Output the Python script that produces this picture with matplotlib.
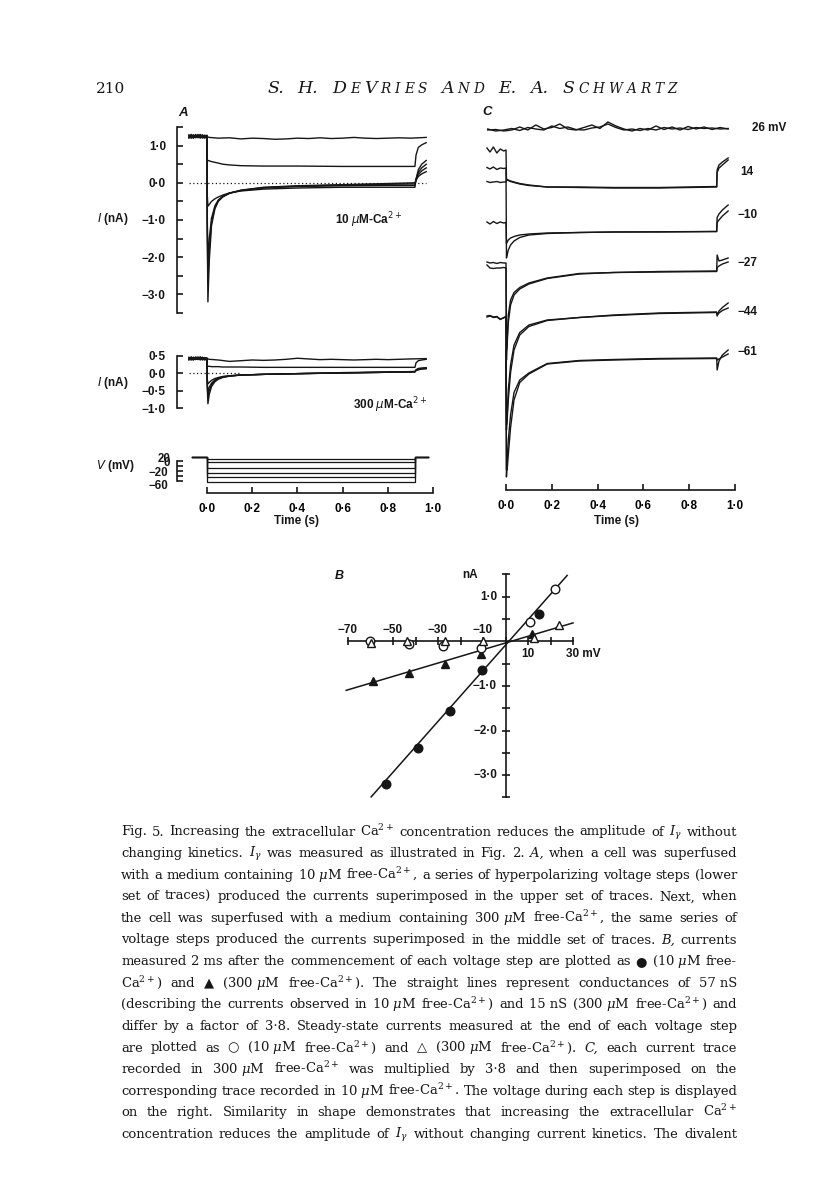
import matplotlib
matplotlib.use('Agg')
import matplotlib.pyplot as plt
from matplotlib.ticker import FixedLocator, FixedFormatter
from matplotlib.font_manager import FontProperties

W, H = 816, 1203
INK = '#161616'
SANS = ['Liberation Sans', 'DejaVu Sans']
SERIF = ['DejaVu Serif', 'Liberation Serif', 'DejaVu Sans']
LW = 1.0

# ======================= DATA =======================
step_mV = [26, 14, -10, -27, -44, -61]          # voltage of each step
holding_mV = 35
step_end_s = 0.92
sweep_start_s = -0.068
sweep_end_s = 0.978

# ---- Panel A: time grids (s) ----
tA_pre = [-0.08, -0.07, -0.06, -0.05, -0.04, -0.03, -0.02, -0.01, 0.0]
tA_step = [0.001, 0.004, 0.01, 0.02, 0.035, 0.05, 0.07, 0.1, 0.15, 0.25, 0.4, 0.6, 0.8, 0.92]
tA_tail = [0.925, 0.935, 0.95, 0.97]
tA_flat = [0.01, 0.05, 0.1, 0.15, 0.2, 0.25, 0.3, 0.35, 0.4, 0.45, 0.5, 0.55,
           0.6, 0.65, 0.7, 0.75, 0.8, 0.85, 0.9, 0.97]

# ---- Panel A, 10 uM Ca (nA); rows follow step_mV ----
A10_pre = [
    [1.22, 1.28, 1.21, 1.26, 1.23, 1.29, 1.22, 1.27, 1.24],
    [1.27, 1.21, 1.29, 1.23, 1.28, 1.20, 1.26, 1.22, 1.24],
    [1.20, 1.26, 1.23, 1.30, 1.21, 1.27, 1.20, 1.28, 1.25],
    [1.25, 1.20, 1.28, 1.22, 1.30, 1.23, 1.29, 1.21, 1.26],
    [1.29, 1.24, 1.20, 1.27, 1.22, 1.30, 1.24, 1.20, 1.27],
    [1.23, 1.30, 1.25, 1.21, 1.27, 1.22, 1.28, 1.25, 1.28],
]
A10_flat26 = [1.22, 1.20, 1.21, 1.18, 1.20, 1.19, 1.17, 1.18, 1.20, 1.19,
              1.21, 1.19, 1.20, 1.22, 1.20, 1.19, 1.20, 1.21, 1.20, 1.22]
A10_step = [
    [0.62, 0.60, 0.59, 0.57, 0.55, 0.53, 0.50, 0.48, 0.46, 0.45, 0.45, 0.44, 0.44, 0.44],
    [-0.30, -0.63, -0.58, -0.50, -0.43, -0.38, -0.33, -0.27, -0.22, -0.17, -0.14, -0.12, -0.12, -0.12],
    [-0.80, -2.20, -1.50, -0.95, -0.62, -0.46, -0.36, -0.28, -0.21, -0.14, -0.10, -0.08, -0.07, -0.07],
    [-1.00, -2.70, -1.80, -1.05, -0.66, -0.48, -0.37, -0.28, -0.20, -0.13, -0.09, -0.06, -0.04, -0.03],
    [-1.20, -3.20, -2.10, -1.15, -0.70, -0.50, -0.38, -0.28, -0.20, -0.12, -0.08, -0.05, -0.02, 0.00],
]
A10_tail = [
    [0.75, 0.95, 1.02, 1.08],
    [0.10, 0.35, 0.50, 0.60],
    [0.10, 0.28, 0.40, 0.50],
    [0.08, 0.22, 0.32, 0.40],
    [0.07, 0.17, 0.24, 0.30],
]

# ---- Panel A, 300 uM Ca (nA) ----
A300_pre = [
    [0.40, 0.45, 0.39, 0.44, 0.41, 0.46, 0.40, 0.44, 0.42],
    [0.44, 0.39, 0.46, 0.40, 0.45, 0.38, 0.43, 0.40, 0.42],
    [0.38, 0.43, 0.41, 0.47, 0.39, 0.44, 0.38, 0.45, 0.42],
    [0.42, 0.38, 0.45, 0.40, 0.47, 0.41, 0.46, 0.39, 0.43],
    [0.46, 0.41, 0.38, 0.44, 0.40, 0.47, 0.42, 0.38, 0.41],
    [0.41, 0.47, 0.42, 0.39, 0.44, 0.40, 0.45, 0.42, 0.44],
]
A300_flat26 = [0.40, 0.38, 0.34, 0.36, 0.38, 0.37, 0.38, 0.40, 0.43, 0.41,
               0.39, 0.40, 0.39, 0.38, 0.39, 0.40, 0.39, 0.40, 0.41, 0.42]
A300_step = [
    [0.20, 0.20, 0.20, 0.19, 0.19, 0.19, 0.18, 0.18, 0.18, 0.17, 0.17, 0.17, 0.17, 0.17],
    [-0.15, -0.30, -0.26, -0.20, -0.15, -0.12, -0.09, -0.07, -0.05, -0.03, -0.01, 0.01, 0.03, 0.04],
    [-0.25, -0.55, -0.40, -0.28, -0.19, -0.14, -0.10, -0.07, -0.05, -0.03, -0.01, 0.01, 0.03, 0.04],
    [-0.30, -0.70, -0.50, -0.33, -0.21, -0.15, -0.11, -0.08, -0.05, -0.03, -0.01, 0.01, 0.03, 0.05],
    [-0.35, -0.87, -0.60, -0.38, -0.24, -0.17, -0.12, -0.08, -0.05, -0.03, -0.01, 0.02, 0.04, 0.05],
]
A300_tail = [
    [0.30, 0.36, 0.38, 0.40],
    [0.10, 0.14, 0.15, 0.16],
    [0.09, 0.12, 0.14, 0.15],
    [0.08, 0.11, 0.13, 0.14],
    [0.08, 0.10, 0.12, 0.13],
]

# ---- Panel B: I-V points ----
B_peak10_mV = [-53.3, -39.0, -24.6, -10.4, 14.8]
B_peak10_nA = [-3.21, -2.39, -1.57, -0.65, 0.61]
B_peak300_mV = [-59.0, -43.0, -27.0, -11.0, 11.7]
B_peak300_nA = [-0.90, -0.70, -0.52, -0.29, 0.16]
B_ss10_mV = [-60.4, -43.0, -28.0, -11.0, 10.7, 22.0]
B_ss10_nA = [0.00, -0.05, -0.10, -0.15, 0.44, 1.18]
B_ss300_mV = [-60.0, -44.0, -27.0, -10.0, 12.6, 23.7]
B_ss300_nA = [-0.03, 0.00, 0.00, 0.00, 0.08, 0.37]
B_fit_g_nS = [57, 15]
B_fit_Erev_mV = [1.5, 2.5]
B_fit_from_mV = [-59.7, -70.8]
B_fit_to_mV = [27.4, 30.0]

# ---- Panel C: superimposed traces (display units, 10 uM scale) ----
tC_pre = [-0.083, -0.07, -0.055, -0.04, -0.025, -0.01, 0.0]
tC_step = [0.002, 0.005, 0.01, 0.02, 0.035, 0.06, 0.1, 0.18, 0.32, 0.47, 0.67, 0.92]
tC_tail = [0.922, 0.93, 0.945, 0.97]
tC_26 = [-0.08, -0.045, -0.01, 0.025, 0.06, 0.095, 0.13, 0.165, 0.2, 0.235, 0.27,
         0.305, 0.34, 0.375, 0.41, 0.445, 0.48, 0.515, 0.55, 0.585, 0.62, 0.655,
         0.69, 0.725, 0.76, 0.795, 0.83, 0.865, 0.9, 0.935, 0.97]
C26_a = [0.02, -0.02, 0.00, 0.03, -0.01, 0.05, 0.02, 0.00, 0.08, 0.03, 0.06, 0.01,
         0.00, 0.04, 0.06, 0.12, 0.05, 0.00, 0.02, -0.01, 0.03, 0.00, 0.05, 0.02,
         0.04, 0.01, 0.05, 0.03, 0.04, 0.02, 0.03]
C26_b = [0.00, 0.01, -0.02, 0.00, 0.06, 0.00, 0.10, 0.02, 0.05, 0.12, 0.02, 0.00,
         0.05, 0.10, 0.03, 0.16, 0.08, 0.02, -0.02, 0.03, 0.00, 0.08, 0.01, 0.06,
         0.00, 0.07, 0.02, 0.06, 0.01, 0.05, 0.02]
# rows: 14, -10, -27, -44, -61 mV ; None = no baseline drawn
C_pre_a = [
    [-0.36, -0.44, -0.34, -0.46, -0.38, -0.42, -0.40],
    [-1.84, -1.88, -1.83, -1.87, -1.84, -1.86, -1.85],
    [-2.64, -2.66, -2.65, -2.67, -2.65, -2.66, -2.66],
    [-3.72, -3.71, -3.74, -3.73, -3.78, -3.76, -3.73],
    None,
]
C_pre_b = [
    [-1.03, -1.05, -1.04, -1.03, -1.05, -1.04, -1.04],
    [-0.75, -0.78, -0.74, -0.79, -0.76, -0.77, -0.76],
    [-2.70, -2.76, -2.77, -2.76, -2.76, -2.75, -2.76],
    [-3.74, -3.72, -3.75, -3.74, -3.79, -3.75, -3.73],
    None,
]
C_start_61 = -4.40
C_step_a = [
    [-0.98, -0.99, -1.00, -1.02, -1.04, -1.07, -1.10, -1.14, -1.15, -1.16, -1.16, -1.14],
    [-2.27, -2.24, -2.20, -2.16, -2.13, -2.10, -2.08, -2.06, -2.05, -2.04, -2.035, -2.03],
    [-4.60, -4.20, -3.70, -3.40, -3.25, -3.15, -3.06, -2.96, -2.87, -2.85, -2.83, -2.82],
    [-6.00, -5.70, -5.20, -4.70, -4.30, -4.05, -3.90, -3.80, -3.75, -3.70, -3.66, -3.64],
    [-6.94, -6.60, -6.20, -5.70, -5.25, -5.00, -4.86, -4.67, -4.61, -4.59, -4.57, -4.56],
]
C_step_b = [
    [-1.00, -1.00, -1.01, -1.03, -1.05, -1.08, -1.11, -1.14, -1.14, -1.15, -1.15, -1.13],
    [-2.56, -2.50, -2.40, -2.30, -2.22, -2.15, -2.10, -2.07, -2.05, -2.04, -2.04, -2.03],
    [-4.40, -4.30, -3.85, -3.50, -3.30, -3.18, -3.08, -2.97, -2.88, -2.85, -2.84, -2.83],
    [-5.90, -5.80, -5.40, -4.85, -4.40, -4.10, -3.93, -3.81, -3.75, -3.71, -3.67, -3.65],
    [-6.80, -6.80, -6.50, -5.95, -5.40, -5.05, -4.88, -4.68, -4.62, -4.60, -4.58, -4.57],
]
C_tail_a = [
    [-0.80, -0.70, -0.64, -0.56],
    [-1.75, -1.68, -1.60, -1.50],
    [-2.50, -2.62, -2.60, -2.56],
    [-3.72, -3.62, -3.55, -3.46],
    [-4.80, -4.62, -4.50, -4.40],
]
C_tail_b = [
    [-0.85, -0.76, -0.70, -0.60],
    [-1.85, -1.80, -1.72, -1.62],
    [-2.75, -2.72, -2.68, -2.64],
    [-3.70, -3.66, -3.61, -3.56],
    [-4.60, -4.58, -4.54, -4.48],
]
C_labels = ['26 mV', '14', '\u221210', '\u221227', '\u221244', '\u221261']

# ---- Caption ----
caption = [
    "Fig. 5. Increasing the extracellular Ca$^{2+}$ concentration reduces the amplitude of $I_\\gamma$ without",
    "changing kinetics. $I_\\gamma$ was measured as illustrated in Fig. 2. *A, when a cell was superfused",
    "with a medium containing 10~$\\mu$M free-Ca$^{2+}$, a series of hyperpolarizing voltage steps (lower",
    "set of traces) produced the currents superimposed in the upper set of traces. Next, when",
    "the cell was superfused with a medium containing 300~$\\mu$M free-Ca$^{2+}$, the same series of",
    "voltage steps produced the currents superimposed in the middle set of traces. *B, currents",
    "measured 2~ms after the commencement of each voltage step are plotted as \u25cf (10~$\\mu$M free-",
    "Ca$^{2+}$) and \u25b2 (300~$\\mu$M free-Ca$^{2+}$). The straight lines represent conductances of 57~nS",
    "(describing the currents observed in 10~$\\mu$M free-Ca$^{2+}$) and 15~nS (300~$\\mu$M free-Ca$^{2+}$) and",
    "differ by a factor of 3\u00b78. Steady-state currents measured at the end of each voltage step",
    "are plotted as \u25cb (10~$\\mu$M free-Ca$^{2+}$) and \u25b3 (300~$\\mu$M free-Ca$^{2+}$). *C, each current trace",
    "recorded in 300~$\\mu$M free-Ca$^{2+}$ was multiplied by 3\u00b78 and then superimposed on the",
    "corresponding trace recorded in 10~$\\mu$M free-Ca$^{2+}$. The voltage during each step is displayed",
    "on the right. Similarity in shape demonstrates that increasing the extracellular Ca$^{2+}$",
    "concentration reduces the amplitude of $I_\\gamma$ without changing current kinetics. The divalent",
]

# ======================= FIGURE =======================
fig = plt.figure(figsize=(W / 100, H / 100), dpi=100)
fig.patch.set_facecolor('white')
renderer = fig.canvas.get_renderer()


def add_ax(l, t, r, b):
    ax = fig.add_axes([l / W, 1 - b / H, (r - l) / W, (b - t) / H])
    ax.patch.set_alpha(0)
    for s in ax.spines.values():
        s.set_visible(False)
    ax.set_xticks([])
    ax.set_yticks([])
    return ax


def ftext(x, y, s, **kw):
    base = dict(color=INK, family=SANS, fontsize=8.5, math_fontfamily='dejavusans')
    base.update(kw)
    return fig.text(x / W, 1 - y / H, s, **base)


def num(v):
    s = f"{abs(v):.1f}".replace('.', '\u00b7')
    return ('\u2212' + s) if v < 0 else s


TICKFONT = dict(family=SANS, size=8.5, weight='bold')


def left_axis(ax, lo, hi, ticks, labels, pad=8):
    sp = ax.spines['left']
    sp.set_visible(True)
    sp.set_linewidth(1.2)
    sp.set_color(INK)
    sp.set_bounds(lo, hi)
    ax.yaxis.set_major_locator(FixedLocator(ticks))
    ax.yaxis.set_major_formatter(FixedFormatter(labels))
    ax.tick_params(axis='y', direction='in', length=4, width=1.2, color=INK, pad=pad,
                   labelcolor=INK)
    for lab in ax.get_yticklabels():
        lab.set_fontproperties(FontProperties(**TICKFONT))


def time_axis(l, y, r, t0, t1, pad=7):
    ax = add_ax(l, y - 12, r, y)
    ax.set_xlim(t0, t1)
    sp = ax.spines['bottom']
    sp.set_visible(True)
    sp.set_linewidth(1.2)
    sp.set_color(INK)
    sp.set_bounds(0, 1.0)
    tk = [0.0, 0.2, 0.4, 0.6, 0.8, 1.0]
    ax.xaxis.set_major_locator(FixedLocator(tk))
    ax.xaxis.set_major_formatter(FixedFormatter([num(v) for v in tk]))
    ax.tick_params(axis='x', direction='in', length=4, width=1.2, color=INK, pad=pad)
    for lab in ax.get_xticklabels():
        lab.set_fontproperties(FontProperties(**TICKFONT))
    return ax


A_t0 = (177 - 207) / 226.0
A_t1 = 1.0

# ---------- Panel A top: 10 uM ----------
axA1 = add_ax(177, 127, 433, 313)
axA1.set_xlim(A_t0, A_t1)
axA1.set_ylim(-3.5, 1.5)
left_axis(axA1, -3.5, 1.5, [1.5, 1.0, 0.5, 0.0, -0.5, -1.0, -1.5, -2.0, -2.5, -3.0, -3.5],
          ['', num(1), '', num(0), '', num(-1), '', num(-2), '', num(-3), ''])
axA1.plot([-0.08, 0.97], [0, 0], ls=(0, (1, 2)), lw=0.9, color=INK)


def draw_A(ax, pre, flat26, steps, tails):
    ax.plot(tA_pre + tA_flat, pre[0] + flat26, color=INK, lw=LW, clip_on=False)
    for k in range(5):
        t = tA_pre + tA_step + tA_tail
        y = pre[k + 1] + steps[k] + tails[k]
        ax.plot(t, y, color=INK, lw=LW, clip_on=False)


draw_A(axA1, A10_pre, A10_flat26, A10_step, A10_tail)

# ---------- Panel A middle: 300 uM ----------
axA2 = add_ax(177, 350, 433, 415)
axA2.set_xlim(A_t0, A_t1)
axA2.set_ylim(-(415 - 373.3) / 35.0, (373.3 - 350) / 35.0)
left_axis(axA2, -1.0, 0.5, [0.5, 0.0, -0.5, -1.0], [num(0.5), num(0.0), num(-0.5), num(-1.0)])
axA2.plot([-0.08, 0.15], [0, 0], ls=(0, (1, 2)), lw=0.9, color=INK)
draw_A(axA2, A300_pre, A300_flat26, A300_step, A300_tail)

# ---------- Panel A bottom: voltage ----------
axV = add_ax(177, 450, 433, 490)
axV.set_xlim(A_t0, A_t1)
axV.set_ylim(26 - 31 / 0.261, 26 + 9 / 0.261)
left_axis(axV, -60, 20, [20, 0, -20, -40, -60], ['', '', '', '', ''], pad=5)
for v in step_mV:
    axV.plot([sweep_start_s, 0, 0, step_end_s, step_end_s, sweep_end_s],
             [holding_mV, holding_mV, v, v, holding_mV, holding_mV],
             color=INK, lw=0.9, clip_on=False)
# voltage tick labels as printed (the "20" and "0" overprint each other in the original)
VB = dict(ha='right', va='center', weight='bold', fontsize=8.3)
ftext(170, 458.5, '20', **VB)
ftext(170.5, 462.5, '0', **VB)
ftext(168.5, 473.5, '\u221220', **VB)
ftext(168.5, 486, '\u221260', **VB)

time_axis(177, 493, 433, A_t0, A_t1)

# ---------- Panel C ----------
C_t0 = (480 - 506) / 229.0
C_t1 = (740 - 506) / 229.0
axC = add_ax(480, 105, 740, 495)
axC.set_xlim(C_t0, C_t1)
axC.set_ylim(-(495 - 130) / 50.0, (130 - 105) / 50.0)
axC.plot(tC_26, C26_a, color=INK, lw=LW, clip_on=False)
axC.plot(tC_26, C26_b, color=INK, lw=LW, clip_on=False)
for pre_set, step_set, tail_set in ((C_pre_a, C_step_a, C_tail_a), (C_pre_b, C_step_b, C_tail_b)):
    for k in range(5):
        if pre_set[k] is None:
            t = [0.0]
            y = [C_start_61]
        else:
            t = list(tC_pre)
            y = list(pre_set[k])
        t = t + tC_step + tC_tail
        y = y + step_set[k] + tail_set[k]
        axC.plot(t, y, color=INK, lw=LW, clip_on=False)

time_axis(480, 490, 740, C_t0, C_t1)

C_label_pos = [(752, 128), (740, 172), (738, 215), (738, 263), (738, 312), (738, 352)]
for lab, (x, y) in zip(C_labels, C_label_pos):
    ftext(x, y, lab, ha='left', va='center', weight='bold')

# ---------- Panel B ----------
axB = add_ax(330, 560, 600, 810)
axB.set_xlim((330 - 505.5) / 2.25, (600 - 505.5) / 2.25)
axB.set_ylim(-(810 - 641.3) / 44.6, (641.3 - 560) / 44.6)
for side in ('left', 'bottom'):
    sp = axB.spines[side]
    sp.set_visible(True)
    sp.set_position(('data', 0))
    sp.set_linewidth(1.2)
    sp.set_color(INK)
axB.spines['left'].set_bounds(-3.5, 1.5)
axB.spines['bottom'].set_bounds(-70, 30)
axB.xaxis.set_major_locator(FixedLocator(list(range(-70, 31, 10))))
axB.yaxis.set_major_locator(FixedLocator([1.5, 1.0, 0.5, -0.5, -1.0, -1.5, -2.0, -2.5, -3.0, -3.5]))
axB.tick_params(axis='both', direction='inout', length=6, width=1.2, color=INK,
                labelbottom=False, labelleft=False)
for g, e, v0, v1 in zip(B_fit_g_nS, B_fit_Erev_mV, B_fit_from_mV, B_fit_to_mV):
    axB.plot([v0, v1], [g * (v0 - e) / 1000.0, g * (v1 - e) / 1000.0], color=INK, lw=1.1,
             clip_on=False, zorder=2)
ms = 6.2
axB.plot(B_peak10_mV, B_peak10_nA, 'o', ms=ms, color=INK, zorder=4, clip_on=False)
axB.plot(B_peak300_mV, B_peak300_nA, '^', ms=ms, color=INK, zorder=4, clip_on=False)
axB.plot(B_ss10_mV, B_ss10_nA, 'o', ms=ms, mfc='white', mec=INK, mew=1.0, zorder=5, clip_on=False)
axB.plot(B_ss300_mV, B_ss300_nA, '^', ms=ms, mfc='white', mec=INK, mew=1.0, zorder=5, clip_on=False)

BF = dict(weight='bold', va='center')
for v, y in ((1.0, 597), (-1.0, 686), (-2.0, 731), (-3.0, 775)):
    ftext(497, y, num(v), ha='right', **BF)
for lab, x in (('\u221270', 348), ('\u221250', 393), ('\u221230', 438), ('\u221210', 483)):
    ftext(x, 630, lab, ha='center', **BF)
ftext(528, 654, '10', ha='center', **BF)
ftext(566, 654, '30 mV', ha='left', **BF)
ftext(470, 575, 'nA', ha='center', **BF)
ftext(339, 576, 'B', ha='center', va='center', style='italic', weight='bold', fontsize=9)

# ---------- Panel texts ----------
ftext(183, 113, 'A', ha='center', va='center', style='italic', weight='bold', fontsize=9.5)
ftext(487, 112, 'C', ha='center', va='center', style='italic', weight='bold', fontsize=9.5)
ftext(113, 219, '$I$ (nA)', ha='center', va='center', weight='bold')
ftext(113, 383, '$I$ (nA)', ha='center', va='center', weight='bold')
ftext(115, 466, '$V$ (mV)', ha='center', va='center', weight='bold')
ftext(335, 220, '10 $\\mu$M-Ca$^{2+}$', ha='left', va='center', weight='bold')
ftext(353, 405, '300 $\\mu$M-Ca$^{2+}$', ha='left', va='center', weight='bold')
ftext(296, 521, 'Time (s)', ha='center', va='center', weight='bold')
ftext(617, 521, 'Time (s)', ha='center', va='center', weight='bold')


# ---------- header ----------
def serif_text(x, y, s, size, italic=False):
    return fig.text(x / W, 1 - y / H, s, color=INK, family=SERIF, fontsize=size,
                    style='italic' if italic else 'normal', math_fontfamily='dejavuserif',
                    va='baseline', ha='left')


def width(t):
    return t.get_window_extent(renderer).width


serif_text(96, 93, '210', 11)
title_words = [['S.'], ['H.'], ['D', 'E', 'V', 'R', 'I', 'E', 'S'], ['A', 'N', 'D'], ['E.'], ['A.'],
               ['S', 'C', 'H', 'W', 'A', 'R', 'T', 'Z']]
title_big = [[1], [1], [1, 0, 1, 0, 0, 0, 0], [1, 0, 0], [1], [1], [1, 0, 0, 0, 0, 0, 0, 0]]
big, small = 12.5, 9.8
runs = []
for word, flags in zip(title_words, title_big):
    runs.append([serif_text(0, 93, s, big if b else small, italic=True) for s, b in zip(word, flags)])
title_x0, title_x1 = 267, 677
track = 4.0
glyphs = sum(width(o) for w in runs for o in w)
inner = sum(len(w) - 1 for w in runs)
wordgap = (title_x1 - title_x0 - glyphs - track * inner) / (len(runs) - 1)
x = title_x0
for w in runs:
    for j, o in enumerate(w):
        o.set_x(x / W)
        x += width(o) + (track if j < len(w) - 1 else 0)
    x += wordgap


# ---------- caption (justified) ----------
def make_words(line, size):
    out = []
    for w in line.split(' '):
        italic = w.startswith('*')
        s = (w[1:] if italic else w).replace('~', ' ')
        out.append(serif_text(0, 0, s, size, italic=italic))
    return out


cap_x0, cap_x1 = 121, 737
cap_y0, cap_dy = 835.5, 21.6
size0 = 11.0
all_objs = []
maxnat = 0
for i, line in enumerate(caption):
    ws = make_words(line, size0)
    all_objs.append(ws)
    nat = sum(width(o) for o in ws) + 4.6 * (len(ws) - 1)
    maxnat = max(maxnat, nat)
size = size0 * min(1.0, (cap_x1 - cap_x0) / maxnat)
for i, ws in enumerate(all_objs):
    for o in ws:
        o.set_fontsize(size)
    widths = [width(o) for o in ws]
    gap = (cap_x1 - cap_x0 - sum(widths)) / (len(ws) - 1)
    x = cap_x0
    y = cap_y0 + i * cap_dy
    for o, wd in zip(ws, widths):
        o.set_position((x / W, 1 - y / H))
        x += wd + gap

fig.savefig('out.png', dpi=100, facecolor='white')
